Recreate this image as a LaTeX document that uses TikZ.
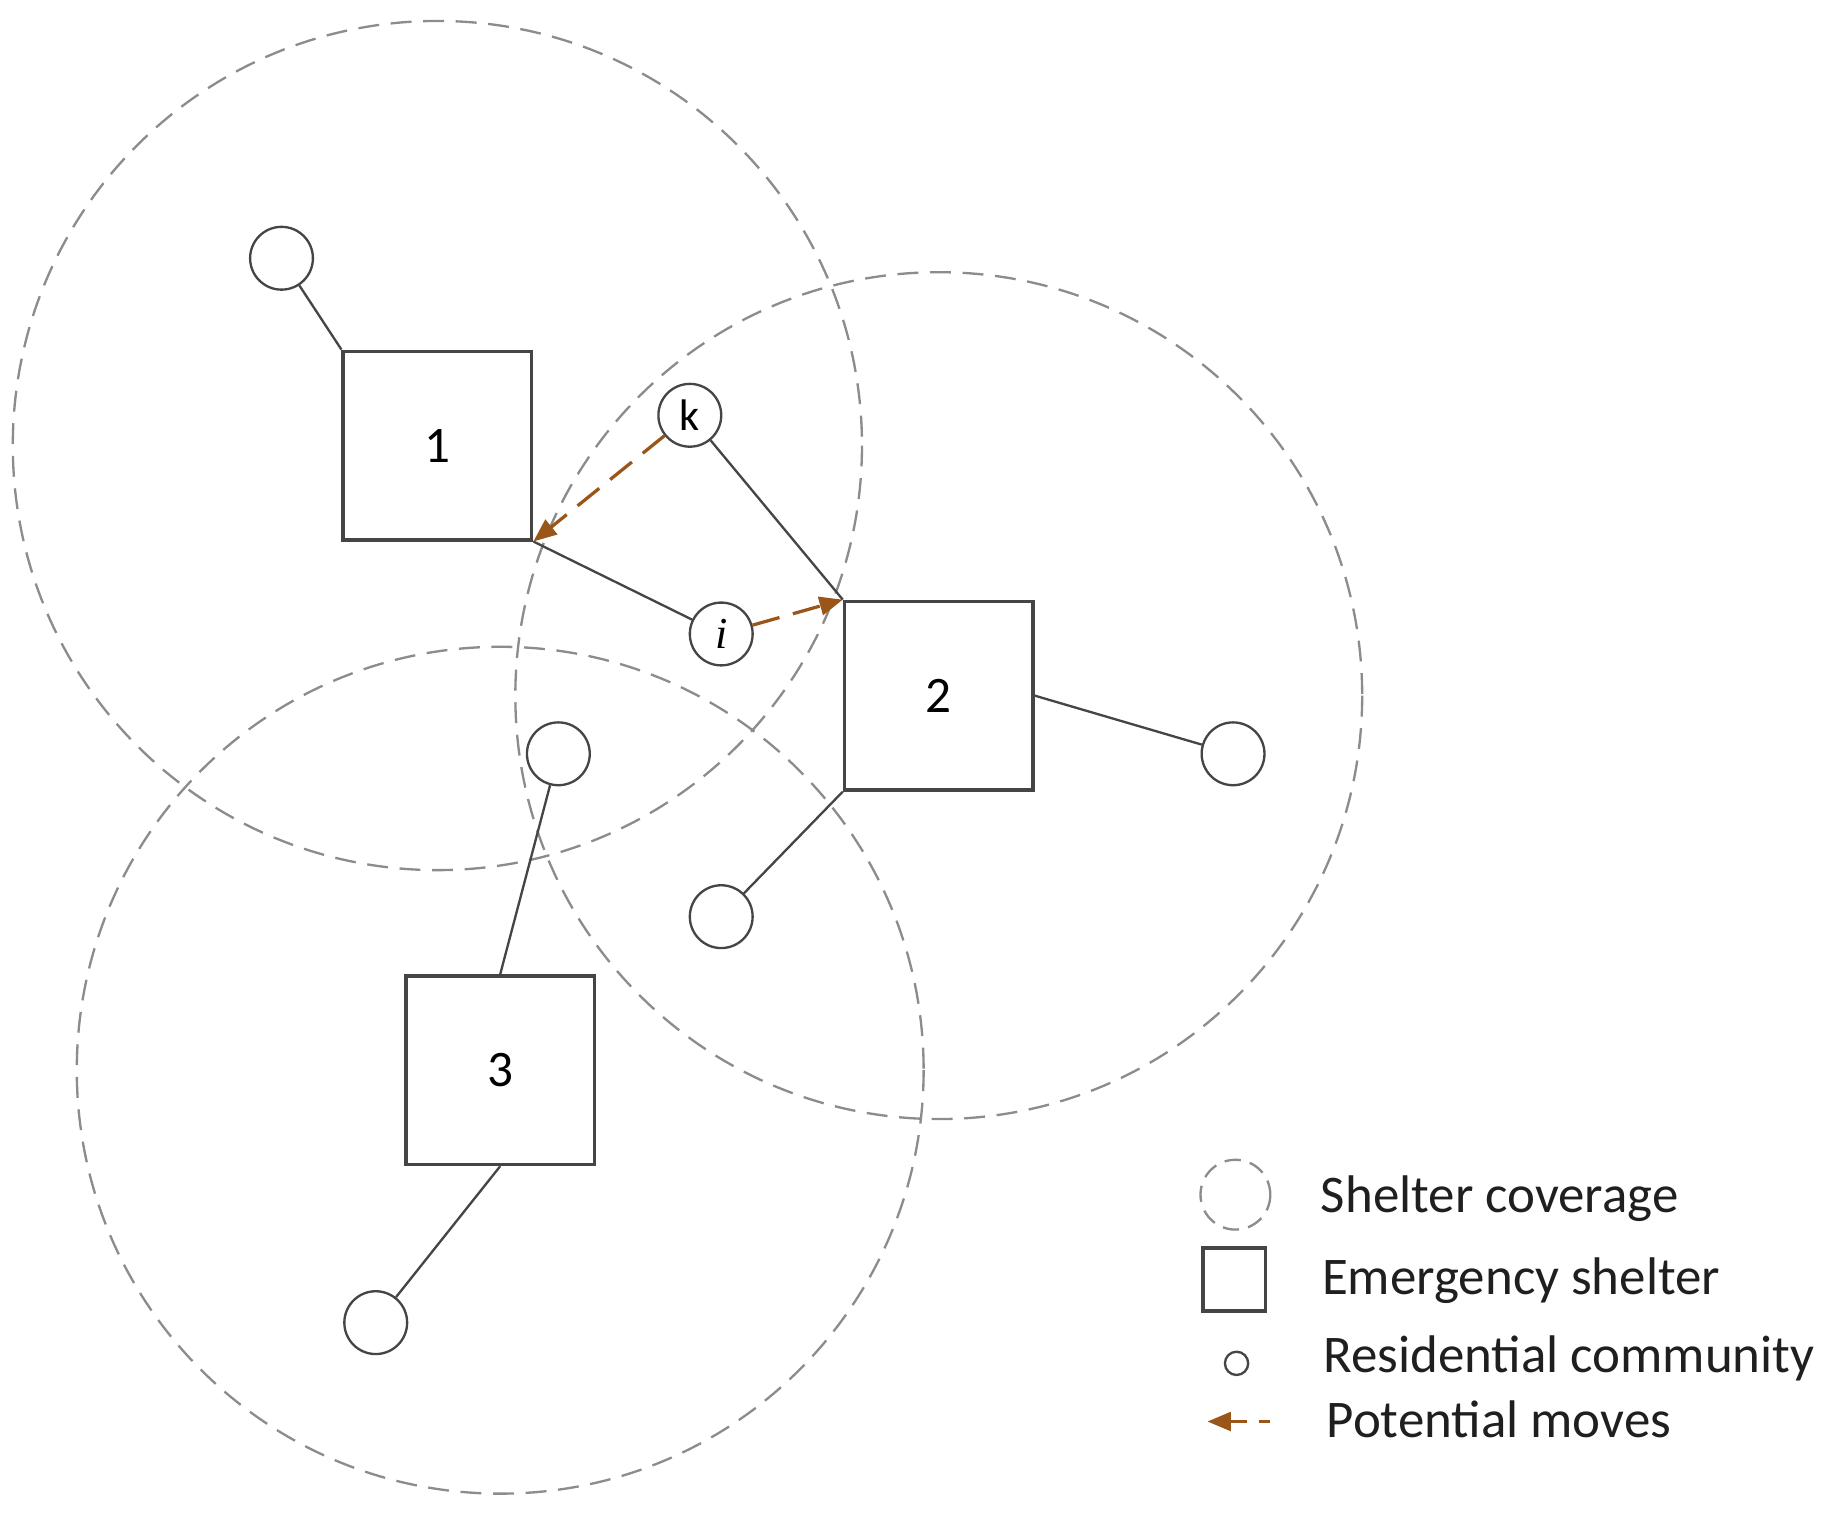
\documentclass[tikz,border=0pt]{standalone}
\usepackage{fontspec}
\setmainfont{Carlito}
\newfontfamily\ifont{Liberation Serif}
\usetikzlibrary{arrows.meta}
\definecolor{covgray}{HTML}{8C8C8C}
\definecolor{linegray}{HTML}{454545}
\definecolor{movebrown}{HTML}{9A5518}
\tikzset{
  cov/.style={draw=covgray, line width=2pt, dash pattern=on 18pt off 10pt},
  shelter/.style={draw=linegray, line width=3pt, minimum size=162pt, inner sep=0pt, font=\fontsize{44}{50}\selectfont},
  comm/.style={circle, draw=linegray, line width=2pt, minimum size=54pt, inner sep=0pt, font=\fontsize{38}{44}\selectfont},
  link/.style={draw=linegray, line width=2pt},
  move/.style={draw=movebrown, line width=2.8pt, dash pattern=on 24pt off 12pt, -{Triangle[length=20pt,width=16pt]}},
  legtext/.style={anchor=base west, font=\fontsize{45.5}{50}\selectfont, text=black!88}
}
\begin{document}
\begin{tikzpicture}[x=1pt,y=-1pt]
\useasboundingbox (0,0) rectangle (1568,1305);
% shelters
\node[shelter] (s1) at (376,383) {1};
\node[shelter] (s2) at (807,598) {2};
\node[shelter] (s3) at (430,920) {3};
% coverage
\draw[cov] (s1.center) circle (365);
\draw[cov] (s2.center) circle (364);
\draw[cov] (s3.center) circle (364);
% communities
\node[comm] (c1) at (242,222) {};
\node[comm] (k) at (593,357) {k};
\node[comm] (i) at (620,545) {{\ifont\itshape i}};
\node[comm] (c3t) at (480,648) {};
\node[comm] (c2r) at (1060,648) {};
\node[comm] (c2b) at (620,788) {};
\node[comm] (c3b) at (323,1137) {};
% links
\draw[link] (c1) -- (s1.north west);
\draw[link] (k) -- (s2.north west);
\draw[link] (s1.south east) -- (i);
\draw[link] (s2.east) -- (c2r);
\draw[link] (s2.south west) -- (c2b);
\draw[link] (c3t) -- (s3.north);
\draw[link] (s3.south) -- (c3b);
% potential moves
\draw[move] (k) -- (s1.south east);
\draw[move] (i) -- (s2.north west);
% legend
\draw[cov, dash pattern=on 14pt off 8pt] (1062,1027) circle (30);
\node[draw=linegray, line width=3pt, minimum size=54pt, inner sep=0pt] (lsq) at (1061,1100) {};
\node[circle, draw=linegray, line width=2pt, minimum size=20pt, inner sep=0pt] (lci) at (1063,1172) {};
\coordinate (la1) at (1092,1222);
\coordinate (la2) at (1038,1222);
\draw[move, dash pattern=on 10pt off 10pt on 40pt] (la1) -- (la2);
\node[legtext] (t1) at (1132,1042) {Shelter coverage};
\node[legtext] (t2) at (1133,1113) {Emergency shelter};
\node[legtext] (t3) at (1134,1180) {Residential community};
\node[legtext] (t4) at (1137,1236) {Potential moves};
\end{tikzpicture}
\end{document}
